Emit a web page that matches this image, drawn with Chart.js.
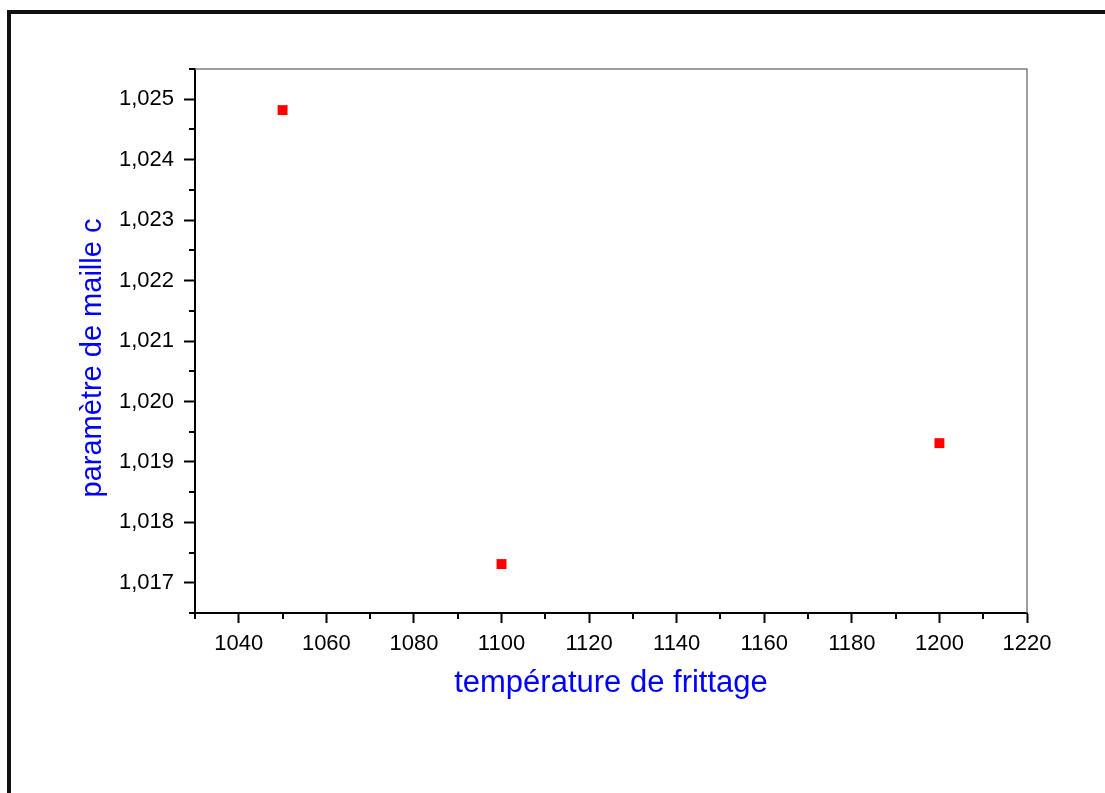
<!DOCTYPE html>
<html>
<head>
<meta charset="utf-8">
<script src="https://cdn.jsdelivr.net/npm/chart.js@4.4.0/dist/chart.umd.min.js"></script>
<style>
  html, body { margin: 0; padding: 0; background: #fff; }
  canvas { display: block; }
</style>
</head>
<body>
<canvas id="chart" width="1105" height="793"></canvas>
<script>
// lattice parameter c vs sintering temperature
const temperatures = [1050, 1100, 1200];
const cParam = [1.02482, 1.01731, 1.01931];

const xTicks = [1040, 1060, 1080, 1100, 1120, 1140, 1160, 1180, 1200, 1220];
const yTicks = [1.017, 1.018, 1.019, 1.020, 1.021, 1.022, 1.023, 1.024, 1.025];

const xTitle = 'température de frittage';
const yTitle = 'paramètre de maille c';

const FONT = '"Liberation Sans", Arial, sans-serif';

// minor ticks sit halfway between the major ones (and half a step before the first)
function minors(ticks){
  const step = ticks[1] - ticks[0];
  const out = [ticks[0] - step/2];
  ticks.forEach(t => out.push(t + step/2));
  return out;
}

const decorations = {
  id: 'decorations',
  beforeDraw(chart){
    const ctx = chart.ctx;
    ctx.save();
    ctx.fillStyle = '#111';
    ctx.fillRect(7, 10, 4, chart.height - 10);   // left edge of the outer frame
    ctx.fillRect(7, 10, chart.width - 7, 4);     // top edge
    ctx.restore();
  },
  afterDraw(chart){
    const {ctx, chartArea: a, scales: {x, y}} = chart;
    ctx.save();

    // thin grey top and right edges of the plot box
    ctx.strokeStyle = '#808080';
    ctx.lineWidth = 1.5;
    ctx.beginPath();
    ctx.moveTo(a.left, a.top);
    ctx.lineTo(a.right, a.top);
    ctx.lineTo(a.right, a.bottom);
    ctx.stroke();

    // minor ticks
    ctx.strokeStyle = '#000';
    ctx.lineWidth = 2;
    ctx.beginPath();
    minors(xTicks).filter(v => v >= x.min && v <= x.max).forEach(v => {
      const px = Math.round(x.getPixelForValue(v));
      ctx.moveTo(px, a.bottom);
      ctx.lineTo(px, a.bottom + 6);
    });
    minors(yTicks).filter(v => v >= y.min - 1e-9 && v <= y.max + 1e-9).forEach(v => {
      const py = Math.round(y.getPixelForValue(v));
      ctx.moveTo(a.left, py);
      ctx.lineTo(a.left - 6, py);
    });
    ctx.stroke();

    // y axis title
    ctx.translate(93, 358);
    ctx.rotate(-Math.PI/2);
    ctx.fillStyle = '#0000ff';
    ctx.font = '29px ' + FONT;
    ctx.textAlign = 'center';
    ctx.textBaseline = 'middle';
    ctx.fillText(yTitle, 0, 0);
    ctx.restore();
  }
};

new Chart(document.getElementById('chart'), {
  type: 'scatter',
  data: {
    datasets: [{
      data: temperatures.map((t, i) => ({x: t, y: cParam[i]})),
      pointStyle: 'rect',
      pointRadius: 7,
      pointHoverRadius: 7,
      pointBackgroundColor: '#ff0000',
      pointBorderWidth: 0,
      showLine: false
    }]
  },
  options: {
    responsive: false,
    animation: false,
    layout: {padding: {left: 0, top: 69, right: 78, bottom: 0}},
    plugins: {legend: {display: false}, tooltip: {enabled: false}},
    scales: {
      x: {
        type: 'linear',
        min: 1030,
        max: 1220,
        afterBuildTicks: s => { s.ticks = xTicks.map(v => ({value: v})); },
        afterFit: s => { s.height = 180; },
        border: {display: true, color: '#000', width: 2},
        grid: {drawOnChartArea: false, drawTicks: true, tickLength: 10, tickWidth: 2, tickColor: '#000'},
        ticks: {
          color: '#000',
          font: {family: FONT, size: 22},
          padding: 8,
          maxRotation: 0,
          autoSkip: false,
          callback: v => String(v)
        },
        title: {display: true, text: xTitle, color: '#0000ff', font: {family: FONT, size: 31}, padding: {top: 0, bottom: 91}}
      },
      y: {
        type: 'linear',
        min: 1.0165,
        max: 1.0255,
        afterBuildTicks: s => { s.ticks = yTicks.map(v => ({value: v})); },
        afterFit: s => { s.width = 195; },
        border: {display: true, color: '#000', width: 2},
        grid: {drawOnChartArea: false, drawTicks: true, tickLength: 11, tickWidth: 2, tickColor: '#000'},
        ticks: {
          color: '#000',
          font: {family: FONT, size: 22},
          padding: 10,
          autoSkip: false,
          callback: v => v.toFixed(3).replace('.', ',')
        }
      }
    }
  },
  plugins: [decorations]
});
</script>
</body>
</html>
